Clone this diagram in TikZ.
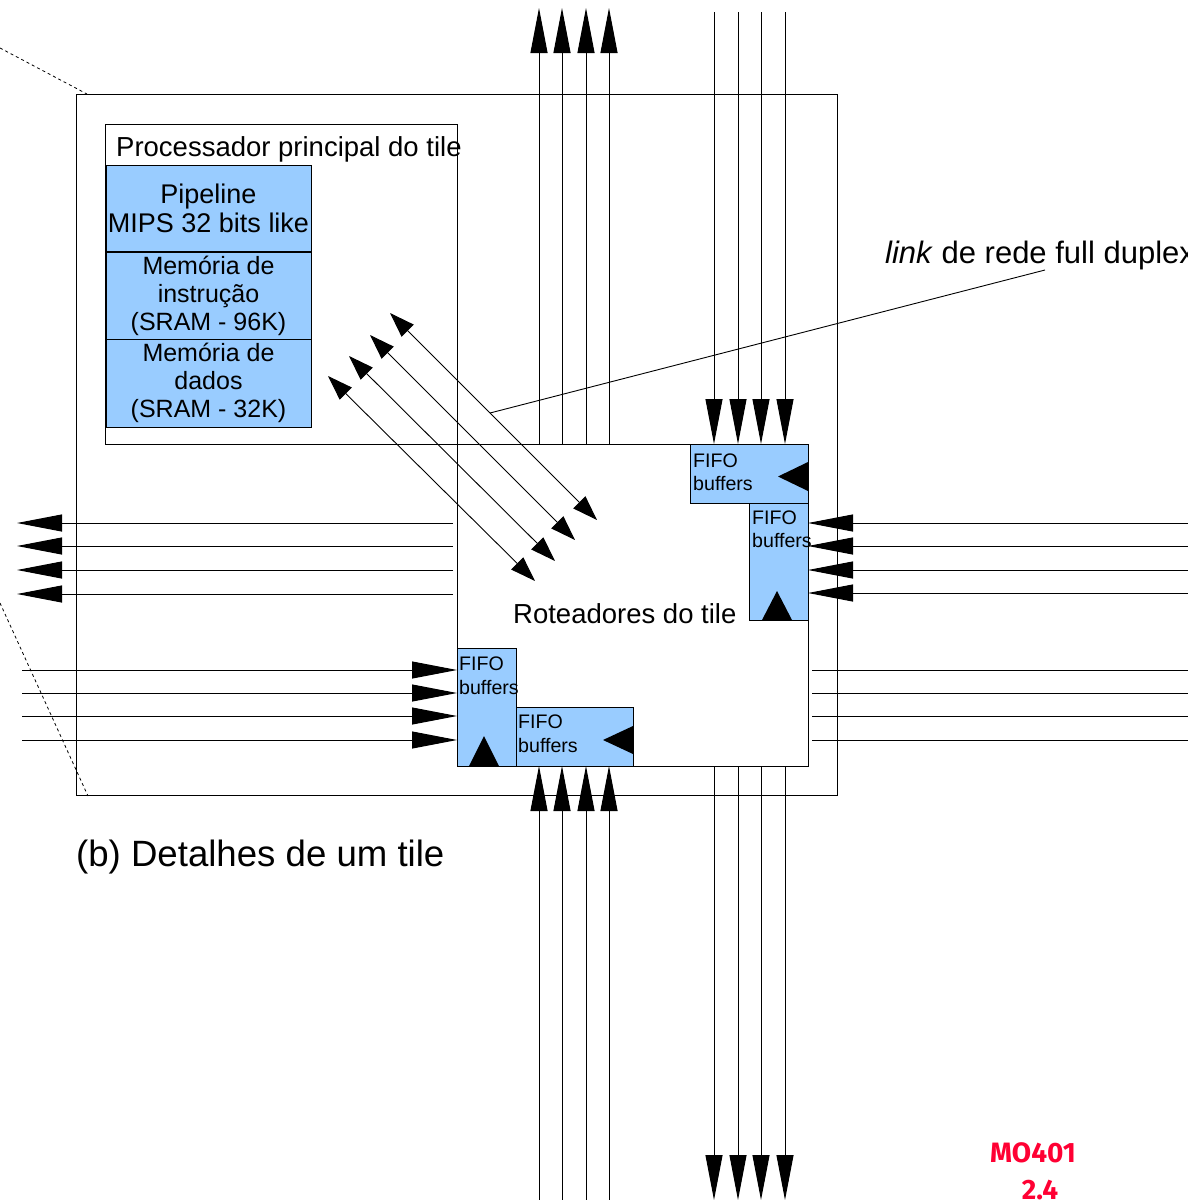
\documentclass[tikz,border=0pt]{standalone}
\usepackage{fontspec}
\setmainfont{Liberation Sans}
\newfontfamily\mofont{Fira Sans}
\usetikzlibrary{arrows.meta}
\definecolor{fifoblue}{HTML}{99CCFF}
\definecolor{mored}{HTML}{FF0033}
\tikzset{
  box/.style={draw=black, line width=1pt, inner sep=0pt},
  bluebox/.style={draw=black, fill=fifoblue, line width=1pt, inner sep=0pt},
  wire/.style={draw=black, line width=1pt},
  bigarrow/.style={wire, -{Triangle[length=45pt,width=17pt]}},
  duplexarrow/.style={wire, line width=0.9pt, {Triangle[length=25pt,width=17pt]}-{Triangle[length=25pt,width=17pt]}},
  fifotext/.style={inner sep=0pt, align=left, font=\fontsize{19.6}{23.5}\selectfont},
  plaintext/.style={inner sep=0pt},
  tri/.style={fill=black, draw=none},
  zoomline/.style={draw=black, line width=0.8pt, dash pattern=on 3pt off 3pt}
}
\begin{document}
\begin{tikzpicture}[x=1pt,y=-1pt]
\useasboundingbox (0,0) rectangle (1188,1200);
\clip (0,0) rectangle (1188,1200);
\fill[white] (0,0) rectangle (1188,1200);

% zoom (dashed) lines
\coordinate (z1a) at (0,48);
\coordinate (z2a) at (0,603);

% outer tile
\node[box, anchor=north west, minimum width=761pt, minimum height=701pt] (tile) at (76,94) {};
\draw[zoomline] (z1a) -- ([xshift=11pt]tile.north west);
\draw[zoomline] (z2a) -- ([xshift=12pt]tile.south west);

% processor box
\node[box, anchor=north west, minimum width=352pt, minimum height=320pt] (proc) at (105,124) {};
\node[plaintext, anchor=west, font=\fontsize{27.5}{33}\selectfont] (proclabel) at (116,149) {Processador principal do tile};

\node[bluebox, minimum width=205pt, minimum height=86pt, align=center, font=\fontsize{27}{29}\selectfont] (pipe) at (208.5,208) {Pipeline\\MIPS 32 bits like};
\node[bluebox, minimum width=205pt, minimum height=88pt, align=center, font=\fontsize{25}{28}\selectfont] (imem) at (208.5,296) {Memória de\\instrução\\(SRAM - 96K)};
\node[bluebox, minimum width=205pt, minimum height=88pt, align=center, font=\fontsize{25}{28}\selectfont] (dmem) at (208.5,383) {Memória de\\dados\\(SRAM - 32K)};

% router box
\node[box, anchor=north west, minimum width=351pt, minimum height=322pt] (router) at (457,444) {};

% top: outgoing (up) and incoming (down)
\foreach \x [count=\i] in {539,562,586,609} {
  \coordinate (tos\i) at (\x,444);
  \coordinate (tot\i) at (\x,8);
  \draw[bigarrow] (tos\i) -- (tot\i);
}
\foreach \x [count=\i] in {714,738,761,785} {
  \coordinate (tis\i) at (\x,12);
  \coordinate (tit\i) at (\x,444);
  \draw[bigarrow] (tis\i) -- (tit\i);
}
% right: incoming (left-pointing) and outgoing lines
\foreach \y [count=\i] in {523,546,570,593} {
  \coordinate (ris\i) at (1188,\y);
  \coordinate (rit\i) at (808,\y);
  \draw[bigarrow] (ris\i) -- (rit\i);
}
\foreach \y [count=\i] in {670,693,716,740} {
  \coordinate (ros\i) at (812,\y);
  \coordinate (rot\i) at (1188,\y);
  \draw[wire] (ros\i) -- (rot\i);
}
% left: outgoing (left-pointing) and incoming
\foreach \y [count=\i] in {523,546,570,594} {
  \coordinate (los\i) at (453,\y);
  \coordinate (lot\i) at (17,\y);
  \draw[bigarrow] (los\i) -- (lot\i);
}
\foreach \y [count=\i] in {670,693,716,740} {
  \coordinate (lis\i) at (22,\y);
  \coordinate (lit\i) at (457,\y);
  \draw[bigarrow] (lis\i) -- (lit\i);
}
% bottom: incoming (up) and outgoing (down)
\foreach \x [count=\i] in {539,562,586,609} {
  \coordinate (bis\i) at (\x,1200);
  \coordinate (bit\i) at (\x,766);
  \draw[bigarrow] (bis\i) -- (bit\i);
}
\foreach \x [count=\i] in {714,738,761,785} {
  \coordinate (bos\i) at (\x,766);
  \coordinate (bot\i) at (\x,1200);
  \draw[bigarrow] (bos\i) -- (bot\i);
}

% FIFO buffers
\node[bluebox, anchor=north west, minimum width=118pt, minimum height=59pt] (f1) at (690,444) {};
\node[bluebox, anchor=north west, minimum width=59pt, minimum height=117pt] (f2) at (749,503) {};
\node[bluebox, anchor=north west, minimum width=59pt, minimum height=118pt] (f3) at (457,648) {};
\node[bluebox, anchor=north west, minimum width=117pt, minimum height=59pt] (f4) at (516,707) {};

\fill[tri] (778,476.5) -- (808,462) -- (808,491) -- cycle;
\fill[tri] (777,591) -- (762,620) -- (792,620) -- cycle;
\fill[tri] (484,736) -- (469,766) -- (499,766) -- cycle;
\fill[tri] (603,740) -- (633,726) -- (633,754) -- cycle;

\node[fifotext, anchor=west] (f1t) at (693,472) {FIFO\\buffers};
\node[fifotext, anchor=west] (f2t) at (752,529) {FIFO\\buffers};
\node[fifotext, anchor=west] (f3t) at (459,675.5) {FIFO\\buffers};
\node[fifotext, anchor=west] (f4t) at (518,733.5) {FIFO\\buffers};

% full duplex links (diagonal)
\foreach \ax/\ay/\bx/\by [count=\i] in {390/313/597/520, 370/335/575/540, 349/356/555/561, 328/376/535/581} {
  \coordinate (da\i) at (\ax,\ay);
  \coordinate (db\i) at (\bx,\by);
  \draw[duplexarrow] (da\i) -- (db\i);
}

% link label
\node[plaintext, anchor=west, font=\fontsize{31}{36}\selectfont] (linklabel) at (885,255) {\textit{link} de rede full duplex};
\coordinate (linkend) at (1045,270);
\coordinate (linkstart) at (490,413);
\draw[wire, line width=0.9pt] (linkstart) -- (linkend);

% router label
\node[plaintext, anchor=west, font=\fontsize{27.5}{33}\selectfont] (routerlabel) at (513,614) {Roteadores do tile};

% caption
\node[plaintext, anchor=west, font=\fontsize{36.6}{42}\selectfont] (caption) at (76,857) {(b) Detalhes de um tile};

% slide mark
\node[plaintext, text=mored, font=\mofont\bfseries\fontsize{28}{34}\selectfont] (mo) at (1033,1153) {MO401};
\node[plaintext, text=mored, font=\mofont\bfseries\fontsize{28}{34}\selectfont] (mosec) at (1040,1190) {2.4};
\end{tikzpicture}
\end{document}
